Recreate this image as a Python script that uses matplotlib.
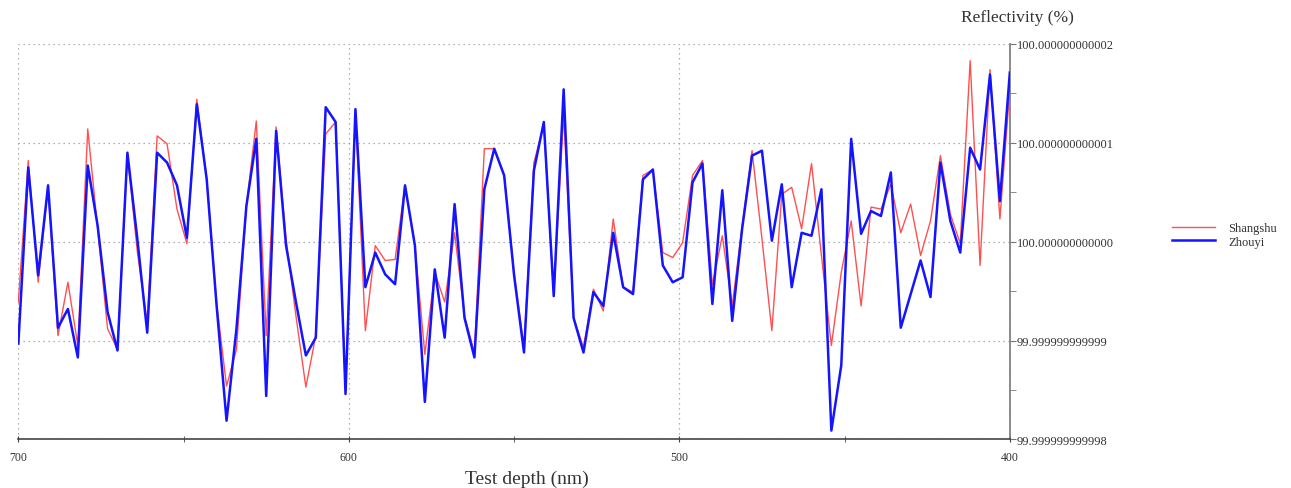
import matplotlib.pyplot as plt
import numpy as np
from matplotlib.ticker import MultipleLocator, FuncFormatter

# test depth in nm, 700 -> 400 in 3 nm steps
depth = np.arange(700, 399, -3)

# reflectivity offsets from 100 %, in units of 1e-12 %
shangshu = [
    -0.61, 0.82, -0.41, 0.55, -0.95, -0.41, -1.05, 1.14, 0.13, -0.88,
    -1.09, 0.89, -0.10, -0.82, 1.07, 0.99, 0.33, -0.02, 1.44, 0.63,
    -0.62, -1.46, -1.09, 0.36, 1.22, -0.95, 1.16, 0.03, -0.75, -1.47,
    -0.95, 1.09, 1.21, -1.50, 1.30, -0.90, -0.04, -0.19, -0.18, 0.57,
    -0.04, -1.14, -0.31, -0.61, 0.09, -0.75, -1.12, 0.94, 0.94, 0.67,
    -0.31, -1.07, 0.80, 1.18, -0.55, 1.30, -0.77, -1.07, -0.48, -0.70,
    0.23, -0.46, -0.51, 0.67, 0.73, -0.11, -0.16, -0.01, 0.67, 0.82,
    -0.44, 0.06, -0.65, 0.16, 0.92, 0.03, -0.90, 0.48, 0.55, 0.13,
    0.79, -0.14, -1.05, -0.31, 0.21, -0.65, 0.35, 0.33, 0.58, 0.09,
    0.38, -0.14, 0.21, 0.87, 0.28, -0.02, 1.83, -0.24, 1.74, 0.23,
    1.54,
]
zhouyi = [
    -1.03, 0.75, -0.34, 0.57, -0.87, -0.68, -1.17, 0.77, 0.16, -0.71,
    -1.10, 0.90, 0.03, -0.92, 0.90, 0.80, 0.57, 0.04, 1.39, 0.63,
    -0.65, -1.81, -0.88, 0.36, 1.04, -1.56, 1.12, -0.04, -0.61, -1.15,
    -0.97, 1.36, 1.21, -1.54, 1.34, -0.46, -0.11, -0.33, -0.43, 0.57,
    -0.04, -1.62, -0.28, -0.97, 0.38, -0.77, -1.17, 0.53, 0.94, 0.67,
    -0.34, -1.12, 0.72, 1.21, -0.55, 1.54, -0.77, -1.12, -0.51, -0.65,
    0.09, -0.46, -0.53, 0.63, 0.73, -0.24, -0.41, -0.36, 0.60, 0.79,
    -0.63, 0.52, -0.80, 0.13, 0.87, 0.92, 0.01, 0.58, -0.46, 0.09,
    0.06, 0.53, -1.91, -1.25, 1.04, 0.08, 0.31, 0.26, 0.70, -0.87,
    -0.53, -0.19, -0.56, 0.80, 0.21, -0.11, 0.95, 0.73, 1.69, 0.41,
    1.71,
]

serif = ['Liberation Serif', 'DejaVu Serif']
txt = '#333333'

fig = plt.figure(figsize=(12.91, 4.89), dpi=100)
ax = fig.add_axes([0.0142, 0.0992, 0.768, 0.809])

ax.plot(depth, shangshu, color='#ff5050', lw=1.0, label='Shangshu', zorder=3)
ax.plot(depth, zhouyi, color='#1414ff', lw=1.8, label='Zhouyi', zorder=4)

ax.set_xlim(700, 400)
ax.set_ylim(-2, 2)

ax.xaxis.set_major_locator(MultipleLocator(100))
ax.xaxis.set_minor_locator(MultipleLocator(50))
ax.yaxis.set_major_locator(MultipleLocator(1))
ax.yaxis.set_minor_locator(MultipleLocator(0.5))
ax.yaxis.tick_right()
ax.yaxis.set_major_formatter(FuncFormatter(lambda v, p: f"{100 + v * 1e-12:.12f}"))

for s in ['top', 'left']:
    ax.spines[s].set_visible(False)
ax.spines['bottom'].set_color('#444444')
ax.spines['right'].set_color('#777777')
ax.spines['bottom'].set_linewidth(1.2)
ax.spines['right'].set_linewidth(1.2)

ax.grid(True, which='major', linestyle=(0, (1, 3)), color='#999999', lw=0.9)
ax.tick_params(axis='x', which='both', direction='inout', length=5, colors='#444444',
               labelcolor=txt, labelsize=8.5, pad=6)
ax.tick_params(axis='y', which='both', direction='out', length=4, colors='#777777',
               labelcolor=txt, labelsize=9, pad=1)
for lab in ax.get_xticklabels() + ax.get_yticklabels():
    lab.set_family(serif)

fig.text(1017 / 1291, 1 - 18 / 489, 'Reflectivity (%)', ha='center', va='center',
         fontsize=12.5, color=txt, family=serif)
fig.text(527 / 1291, 1 - 479 / 489, 'Test depth (nm)', ha='center', va='center',
         fontsize=14, color=txt, family=serif)

leg = fig.legend(loc='center left', bbox_to_anchor=(1161 / 1291, 1 - 236 / 489),
                 frameon=False, handlelength=3.4, handletextpad=1.1,
                 labelspacing=0.1, prop={'family': serif, 'size': 9})
for t in leg.get_texts():
    t.set_color(txt)

fig.savefig('out.png', dpi=100)
